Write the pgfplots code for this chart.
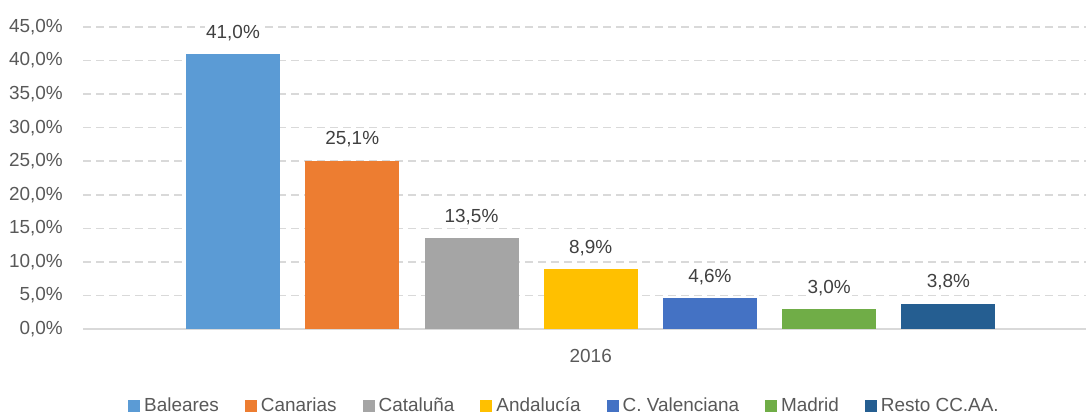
\documentclass[border=0pt]{standalone}
\usepackage{pgfplots}
\pgfplotsset{compat=1.18}
\usepackage{fontspec}
\setmainfont{Liberation Sans}
\definecolor{cA}{HTML}{5B9BD5}
\definecolor{cB}{HTML}{ED7D31}
\definecolor{cC}{HTML}{A5A5A5}
\definecolor{cD}{HTML}{FFC000}
\definecolor{cE}{HTML}{4472C4}
\definecolor{cF}{HTML}{70AD47}
\definecolor{cG}{HTML}{255E91}
\definecolor{tick}{HTML}{595959}
\definecolor{lab}{HTML}{404040}
\definecolor{grid}{HTML}{D9D9D9}
\begin{document}
\begin{tikzpicture}[x=1bp,y=1bp]
\path[use as bounding box] (0,0) rectangle (1086,414);
\begin{axis}[
  at={(83bp,85bp)}, anchor=south west,
  scale only axis, width=1003bp, height=302bp,
  xmin=-1.258, xmax=7.153, ymin=0, ymax=45,
  ybar, bar width=94bp,
  every axis plot/.append style={bar shift=0pt, draw=none},
  axis y line*=left, axis x line*=bottom,
  y axis line style={draw=none},
  x axis line style={-, draw=grid, line width=2.5bp},
  xtick={3}, xticklabels={2016}, major tick length=0pt,
  ytick={0,5,...,45},
  yticklabels={{0,0\%},{5,0\%},{10,0\%},{15,0\%},{20,0\%},{25,0\%},{30,0\%},{35,0\%},{40,0\%},{45,0\%}},
  ymajorgrids, y grid style={draw=grid, line width=1.5bp, dash pattern=on 8bp off 5bp},
  font=\fontsize{19}{22}\selectfont,
  yticklabel style={text=tick, anchor=east, inner sep=0pt, xshift=-20bp},
  xticklabel style={text=tick, anchor=north, inner sep=0pt, yshift=-20bp},
  clip=false,
  nodes near coords={\pgfmathprintnumber[fixed,fixed zerofill,precision=1,use comma,assume math mode=true]{\pgfplotspointmeta}\%},
  every node near coord/.append style={text=lab, fill=white, inner sep=1bp, anchor=south, yshift=12bp},
  legend columns=7,
  legend style={draw=none, at={(rel axis cs:0.0419,-0.255)}, anchor=west,
    font=\fontsize{19}{22}\selectfont, text=tick,
    /tikz/every odd column/.append style={column sep=2bp},
    /tikz/every even column/.append style={column sep=24bp},
    nodes={inner sep=2bp, text height=14bp, text depth=4bp}},
  legend image code/.code={\fill[#1] (0bp,-6bp) rectangle (12bp,6bp);},
]
\addplot[fill=cA] coordinates {(0,41.0)};
\addlegendentry{Baleares}
\addplot[fill=cB] coordinates {(1,25.1)};
\addlegendentry{Canarias}
\addplot[fill=cC] coordinates {(2,13.5)};
\addlegendentry{Cataluña}
\addplot[fill=cD] coordinates {(3,8.9)};
\addlegendentry{Andalucía}
\addplot[fill=cE] coordinates {(4,4.6)};
\addlegendentry{C. Valenciana}
\addplot[fill=cF] coordinates {(5,3.0)};
\addlegendentry{Madrid}
\addplot[fill=cG] coordinates {(6,3.8)};
\addlegendentry{Resto CC.AA.}
\end{axis}
\end{tikzpicture}
\end{document}
